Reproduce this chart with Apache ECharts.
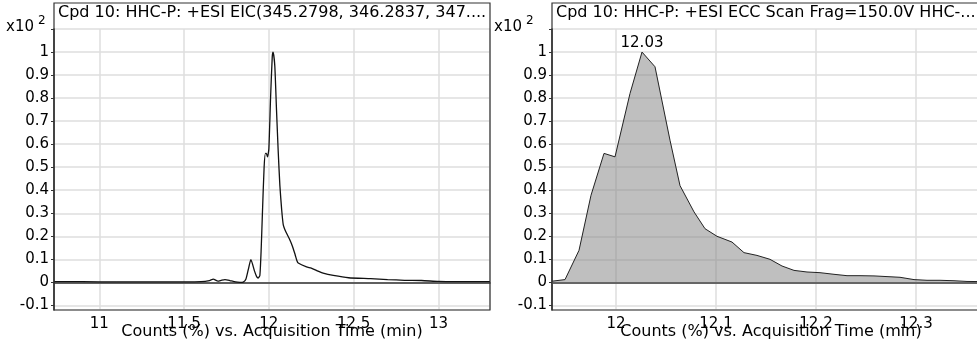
<!DOCTYPE html>
<html>
<head>
<meta charset="utf-8">
<script src="https://cdn.jsdelivr.net/npm/echarts/dist/echarts.min.js"></script>
<style>
  html, body { margin: 0; padding: 0; background: #fff; }
  #chart { width: 977px; height: 342px; }
</style>
</head>
<body>
<div id="chart"></div>
<script>
// EIC trace (left panel)
const leftTime = [10.733, 10.9, 11.1, 11.3, 11.5, 11.6, 11.65, 11.672, 11.7, 11.72, 11.741, 11.77, 11.79, 11.83,
  11.849, 11.865, 11.88, 11.894, 11.915, 11.928, 11.937, 11.947, 11.955, 11.962, 11.972, 11.98, 11.985, 11.992,
  12.0, 12.01, 12.02, 12.025, 12.035, 12.045, 12.055, 12.065, 12.075, 12.085, 12.1, 12.12, 12.14, 12.155, 12.165,
  12.173, 12.222, 12.25, 12.29, 12.32, 12.38, 12.47, 12.6, 12.7, 12.8, 12.9, 13.0, 13.1, 13.304];
const leftCounts = [0.003, 0.003, 0.002, 0.002, 0.002, 0.003, 0.008, 0.014, 0.005, 0.009, 0.012, 0.008, 0.004, 0.0,
  0.001, 0.015, 0.06, 0.099, 0.05, 0.025, 0.019, 0.03, 0.15, 0.3, 0.5, 0.56, 0.56, 0.545,
  0.58, 0.8, 0.98, 1.0, 0.94, 0.75, 0.57, 0.42, 0.32, 0.25, 0.22, 0.19, 0.155, 0.12, 0.095,
  0.084, 0.067, 0.062, 0.049, 0.04, 0.03, 0.02, 0.016, 0.012, 0.009, 0.008, 0.004, 0.003, 0.003];

// ECC scan (right panel)
const rightTime = [11.936, 11.949, 11.963, 11.975, 11.988, 11.999, 12.014, 12.026, 12.039, 12.054, 12.064, 12.078,
  12.089, 12.101, 12.116, 12.128, 12.141, 12.154, 12.166, 12.178, 12.191, 12.204, 12.218, 12.231, 12.244, 12.258,
  12.271, 12.284, 12.298, 12.311, 12.324, 12.338, 12.351, 12.374];
const rightCounts = [0.005, 0.012, 0.139, 0.378, 0.56, 0.545, 0.82, 1.0, 0.936, 0.617, 0.42, 0.306,
  0.233, 0.2, 0.175, 0.129, 0.117, 0.1, 0.071, 0.052, 0.045, 0.042, 0.035, 0.029, 0.029, 0.028,
  0.025, 0.022, 0.012, 0.009, 0.009, 0.007, 0.004, 0.003];

const yTicks = [-0.1, 0, 0.1, 0.2, 0.3, 0.4, 0.5, 0.6, 0.7, 0.8, 0.9, 1];
const leftXTicks = [11, 11.5, 12, 12.5, 13];
const rightXTicks = [12, 12.1, 12.2, 12.3];

const leftTitle = 'Cpd 10: HHC-P: +ESI EIC(345.2798, 346.2837, 347....';
const rightTitle = 'Cpd 10: HHC-P: +ESI ECC Scan Frag=150.0V HHC-...';
const axisTitle = 'Counts (%) vs. Acquisition Time (min)';

const FONT = '"DejaVu Sans", "Liberation Sans", Arial, sans-serif';

function tickFmt(list) {
  return (v) => {
    const t = list.find((x) => Math.abs(x - v) < 1e-6);
    return t === undefined ? '' : String(t);
  };
}

const peakIdx = rightCounts.indexOf(Math.max(...rightCounts));

function xAxis(gridIndex, min, max, splitNumber, ticks) {
  return {
    type: 'value', gridIndex, min, max, splitNumber,
    name: axisTitle, nameLocation: 'middle', nameGap: 14, nameMoveOverlap: false,
    nameTextStyle: { fontFamily: FONT, fontSize: 16, color: '#000' },
    axisLine: { show: true, lineStyle: { color: '#333', width: 1.5 } },
    axisTick: { show: false },
    axisLabel: { fontFamily: FONT, fontSize: 15, color: '#000', margin: 7, formatter: tickFmt(ticks),
      showMinLabel: false, showMaxLabel: false },
    splitLine: { show: true, lineStyle: { color: '#dedede', width: 1.5 } }
  };
}

function yAxis(gridIndex) {
  return {
    type: 'value', gridIndex, min: -0.12, max: 1.1, splitNumber: 12,
    axisLine: { show: true, lineStyle: { color: '#333', width: 1.5 } },
    axisTick: { show: true, length: 3, lineStyle: { color: '#333' } },
    axisLabel: { fontFamily: FONT, fontSize: 15, color: '#000', margin: 5, formatter: tickFmt(yTicks),
      showMinLabel: false },
    splitLine: { show: true, lineStyle: { color: '#dedede', width: 1.5 } }
  };
}

const chart = echarts.init(document.getElementById('chart'), null, { renderer: 'canvas' });

chart.setOption({
  animation: false,
  backgroundColor: '#fff',
  grid: [
    { left: 54, top: 29, width: 436, bottom: 32, outerBoundsMode: 'none', containLabel: false },
    { left: 552, top: 29, width: 438, bottom: 32, outerBoundsMode: 'none', containLabel: false }
  ],
  xAxis: [
    xAxis(0, 10.733, 13.304, 5, leftXTicks),
    xAxis(1, 11.936, 12.374, 4, rightXTicks)
  ],
  yAxis: [yAxis(0), yAxis(1)],
  series: [
    {
      type: 'line', xAxisIndex: 0, yAxisIndex: 0,
      data: leftTime.map((t, i) => [t, leftCounts[i]]),
      showSymbol: false, smooth: 0.2,
      lineStyle: { color: '#111', width: 1.3 }
    },
    {
      type: 'line', xAxisIndex: 1, yAxisIndex: 1,
      data: rightTime.map((t, i) => [t, rightCounts[i]]),
      showSymbol: false,
      lineStyle: { color: '#222', width: 1 },
      areaStyle: { color: '#808080', opacity: 0.5 },
      markPoint: {
        silent: true, symbol: 'rect', symbolSize: 1,
        itemStyle: { color: 'rgba(0,0,0,0)' },
        label: { show: true, position: 'top', distance: 1, fontFamily: FONT, fontSize: 15, color: '#000',
          formatter: () => rightTime[peakIdx].toFixed(2) },
        data: [{ coord: [rightTime[peakIdx], rightCounts[peakIdx]] }]
      },
      markLine: {
        silent: true, symbol: 'none', label: { show: false },
        lineStyle: { color: '#666', width: 2, type: 'solid' },
        data: [{ yAxis: 0 }]
      }
    }
  ],
  graphic: [
    { type: 'rect', shape: { x: 54, y: 3, width: 436, height: 307 }, style: { fill: 'none', stroke: '#333', lineWidth: 1.2 }, z: 10 },
    { type: 'rect', shape: { x: 552, y: 3, width: 438, height: 307 }, style: { fill: 'none', stroke: '#333', lineWidth: 1.2 }, z: 10 },
    { type: 'text', left: 58, top: 5, style: { text: leftTitle, font: '16px ' + FONT, fill: '#000' }, z: 11 },
    { type: 'text', left: 556, top: 5, style: { text: rightTitle, font: '16px ' + FONT, fill: '#000' }, z: 11 },
    { type: 'text', left: 6, top: 20, style: { text: 'x10', font: '15px ' + FONT, fill: '#000' } },
    { type: 'text', left: 38, top: 15, style: { text: '2', font: '12px ' + FONT, fill: '#000' } },
    { type: 'text', left: 494, top: 20, style: { text: 'x10', font: '15px ' + FONT, fill: '#000' } },
    { type: 'text', left: 526, top: 15, style: { text: '2', font: '12px ' + FONT, fill: '#000' } }
  ]
});
</script>
</body>
</html>
